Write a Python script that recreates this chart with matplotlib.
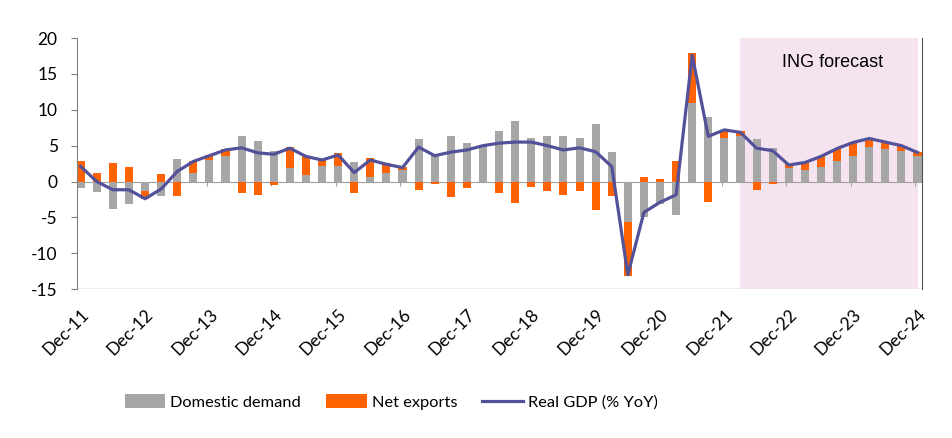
import numpy as np
import matplotlib
matplotlib.use("Agg")
from matplotlib import pyplot as plt

# quarterly contributions to real GDP growth, Dec-11 .. Dec-24
domestic = [-0.9, -1.4, -3.85, -3.1, -1.3, -2.0, 3.2, 1.2, 3.0, 3.5,
            6.4, 5.7, 4.3, 1.9, 0.9, 2.1, 2.2, 2.75, 0.7, 1.15,
            1.6, 5.9, 3.9, 6.4, 5.35, 4.9, 7.1, 8.5, 6.0, 6.3,
            6.3, 6.0, 8.05, 4.05, -5.6, -4.9, -3.2, -4.65, 10.9, 9.0,
            6.05, 6.3, 5.9, 4.65, 1.85, 1.55, 2.0, 2.8, 3.5, 4.8,
            4.55, 4.2, 3.5]
net_exports = [2.9, 1.25, 2.65, 2.0, -1.2, 1.1, -2.0, 1.7, 0.7, 1.05,
               -1.6, -1.9, -0.5, 2.9, 2.65, 0.9, 1.75, -1.6, 2.6, 1.5,
               0.45, -1.25, -0.4, -2.2, -0.95, 0.1, -1.6, -3.0, -0.7, -1.35,
               -1.9, -1.35, -3.95, -2.0, -7.6, 0.7, 0.3, 2.8, 7.0, -2.9,
               1.15, 0.7, -1.15, -0.35, 0.55, 1.1, 1.6, 1.7, 1.95, 1.15,
               0.8, 0.8, 0.6]
gdp = [2.1, 0.0, -1.15, -1.15, -2.4, -1.05, 1.4, 2.8, 3.6, 4.4,
       4.7, 4.0, 3.8, 4.65, 3.5, 3.0, 3.7, 1.25, 3.0, 2.4,
       1.95, 4.8, 3.6, 4.1, 4.4, 5.0, 5.35, 5.5, 5.5, 5.0,
       4.4, 4.7, 4.15, 2.1, -13.0, -4.3, -2.9, -1.85, 17.6, 6.3,
       7.2, 6.85, 4.65, 4.3, 2.3, 2.65, 3.5, 4.6, 5.45, 6.0,
       5.5, 5.0, 4.05]
tick_labels = ['Dec-11', 'Dec-12', 'Dec-13', 'Dec-14', 'Dec-15', 'Dec-16', 'Dec-17',
               'Dec-18', 'Dec-19', 'Dec-20', 'Dec-21', 'Dec-22', 'Dec-23', 'Dec-24']
forecast_start = 41  # Mar-22

GREY = '#A6A6A6'
ORANGE = '#FF6200'
PURPLE = '#525199'
PINK = '#F5E4EF'

plt.rcParams['font.family'] = ['Lato', 'DejaVu Sans']
plt.rcParams['axes.unicode_minus'] = False

x = np.arange(len(gdp))
dom = np.array(domestic)
net = np.array(net_exports)
# stack net exports on top of domestic demand only when signs agree
net_bottom = np.where(np.sign(net) == np.sign(dom), dom, 0)

fig = plt.figure(figsize=(9.52, 4.38), dpi=100)
ax = fig.add_axes([0.081, 0.34, 0.887, 0.573])

ax.fill_between(x[forecast_start:], -15, 20, color=PINK, lw=0, zorder=0)
ax.axhline(-15, color=PINK, lw=1.2, zorder=0)
ax.text(x[forecast_start:].mean() + 0.2, 16.6, 'ING forecast', family='Liberation Sans',
        fontsize=13, ha='center', va='center')

b1 = ax.bar(x, dom, width=0.5, color=GREY, label='Domestic demand', zorder=2)
b2 = ax.bar(x, net, width=0.5, bottom=net_bottom, color=ORANGE, label='Net exports', zorder=2)
l1, = ax.plot(x, gdp, color=PURPLE, lw=2.3, label='Real GDP (% YoY)', zorder=3)

ax.set_xlim(-0.22, 52.25)
ax.set_ylim(-15, 20)
ax.set_yticks(range(-15, 21, 5))
ax.tick_params(axis='y', length=4, color='#808080', pad=10, labelsize=12.5)

ax.spines['top'].set_visible(False)
ax.spines['left'].set_color('#808080')
ax.spines['right'].set_color('#505050')
ax.spines['bottom'].set_position(('data', 0))
ax.spines['bottom'].set_color('#A0A0A0')
ax.spines['bottom'].set_zorder(1)
ax.set_xticks(x[::4] - 0.15)
ax.tick_params(axis='x', length=3, color='#A0A0A0', labelbottom=False)

sec = ax.secondary_xaxis('bottom')
sec.set_xticks(x[::4], tick_labels)
sec.spines['bottom'].set_visible(False)
sec.tick_params(length=0, pad=12, labelsize=12.5)
for lab in sec.get_xticklabels():
    lab.set_rotation(45)
    lab.set_ha('right')
    lab.set_rotation_mode('anchor')

fig.legend([b1, b2, l1], ['Domestic demand', 'Net exports', 'Real GDP (% YoY)'],
           loc='center', bbox_to_anchor=(391 / 952, 1 - 402 / 438), ncol=3,
           frameon=False, fontsize=11.8, handlelength=2.5, handleheight=0.9,
           handletextpad=0.3, columnspacing=1.5)

fig.savefig('out.png', dpi=100)
